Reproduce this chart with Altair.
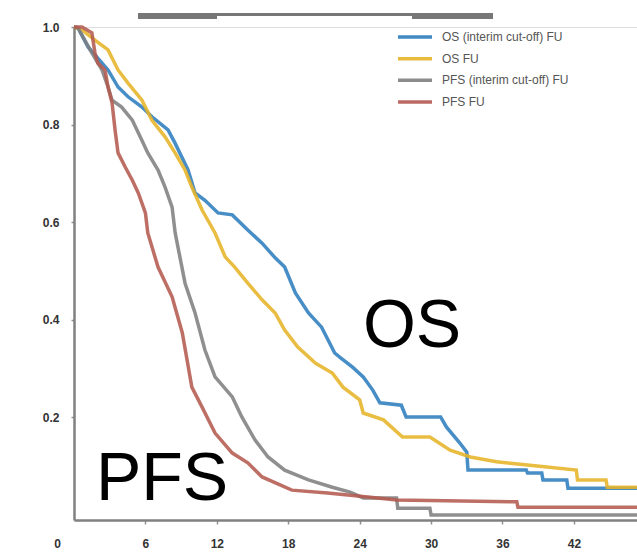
import altair as alt
import pandas as pd

# ---- data ----
series_names = ["OS (interim cut-off) FU", "OS FU", "PFS (interim cut-off) FU", "PFS FU"]
series_colors = ["#2D7DBE", "#E6B428", "#808080", "#B45A50"]

os_int_t = [0, 0.34, 1.18, 2.86, 3.7, 4.54, 5.71, 6.55, 7.9, 8.49, 9.58, 10.17, 11.0, 12.1, 13.3, 14.6,
            15.8, 16.9, 17.7, 18.6, 19.7, 20.8, 21.9, 22.4, 23.4, 24.3, 25.1, 25.7, 27.5, 27.9, 30.8,
            31.3, 32.4, 33.0, 33.1, 38.0, 38.1, 39.3, 39.4, 41.4, 41.5, 47.3]
os_int_s = [1.0, 0.998, 0.959, 0.912, 0.877, 0.857, 0.836, 0.816, 0.789, 0.762, 0.707, 0.66, 0.645, 0.619,
            0.615, 0.584, 0.557, 0.527, 0.508, 0.455, 0.414, 0.385, 0.332, 0.322, 0.303, 0.283, 0.256,
            0.23, 0.225, 0.201, 0.201, 0.18, 0.148, 0.129, 0.092, 0.092, 0.086, 0.086, 0.072, 0.072,
            0.055, 0.055]

os_t = [0, 0.67, 1.76, 2.86, 3.7, 4.54, 5.71, 6.55, 7.65, 8.49, 9.33, 9.9, 10.76, 11.85, 12.7, 13.5,
        14.6, 15.8, 16.9, 17.7, 18.8, 20.3, 21.7, 22.6, 24.0, 24.3, 26.0, 27.6, 29.9, 31.6, 33.3, 35.5,
        38.3, 42.2, 42.3, 44.7, 44.8, 47.3]
os_s = [1.0, 0.994, 0.973, 0.953, 0.912, 0.885, 0.85, 0.809, 0.775, 0.742, 0.707, 0.672, 0.625, 0.578,
        0.529, 0.508, 0.475, 0.441, 0.414, 0.379, 0.344, 0.311, 0.291, 0.262, 0.236, 0.209, 0.195, 0.16,
        0.16, 0.133, 0.119, 0.109, 0.102, 0.092, 0.072, 0.072, 0.057, 0.057]

pfs_int_t = [0, 0.34, 1.5, 2.35, 2.86, 3.2, 4.0, 4.9, 5.7, 6.2, 7.06, 7.65, 8.24, 8.5, 9.33, 10.17, 11.0,
             11.85, 13.3, 14.1, 15.2, 16.3, 17.7, 19.7, 21.7, 23.2, 24.3, 27.1, 27.2, 29.9, 30.0, 47.3]
pfs_int_s = [1.0, 0.998, 0.947, 0.912, 0.877, 0.85, 0.836, 0.809, 0.768, 0.742, 0.707, 0.672, 0.631,
             0.578, 0.475, 0.414, 0.338, 0.283, 0.242, 0.201, 0.154, 0.119, 0.092, 0.072, 0.057, 0.047,
             0.035, 0.035, 0.014, 0.014, 0.0, 0.0]

pfs_t = [0, 0.67, 1.5, 1.76, 2.0, 2.6, 2.86, 3.2, 3.45, 3.7, 4.3, 4.9, 5.4, 6.0, 6.2, 7.06, 8.24, 9.1,
         9.9, 10.76, 11.85, 13.3, 14.6, 15.8, 18.3, 21.3, 24.7, 27.1, 37.2, 37.3, 47.3]
pfs_s = [1.0, 1.0, 0.988, 0.947, 0.926, 0.912, 0.877, 0.844, 0.789, 0.742, 0.713, 0.686, 0.66, 0.619,
         0.578, 0.508, 0.447, 0.373, 0.262, 0.221, 0.168, 0.127, 0.107, 0.078, 0.051, 0.045, 0.037,
         0.031, 0.027, 0.016, 0.016]

x_ticks = [6, 12, 18, 24, 30, 36, 42]
y_ticks = [0.2, 0.4, 0.6, 0.8, 1.0]

rows = []
for name, ts, ss in zip(series_names, [os_int_t, os_t, pfs_int_t, pfs_t], [os_int_s, os_s, pfs_int_s, pfs_s]):
    for i, (t, s) in enumerate(zip(ts, ss)):
        rows.append({"series": name, "month": t, "surv": s, "idx": i})
df = pd.DataFrame(rows)
legend_df = pd.DataFrame({"series": series_names})

W, H = 563, 493
FONT = "Liberation Sans"

x_scale = alt.Scale(domain=[0, 47.3], nice=False, zero=False)
y_scale = alt.Scale(domain=[-0.0102, 1.0], nice=False, zero=False)
color_scale = alt.Scale(domain=series_names, range=series_colors)

lines = alt.Chart(df).mark_line(strokeWidth=3.5, strokeOpacity=0.88, clip=False).encode(
    x=alt.X("month:Q", scale=x_scale, title=None,
            axis=alt.Axis(values=x_ticks, grid=False, domainColor="#808080", domainWidth=2.5,
                          tickColor="#909090", tickSize=4, tickWidth=1.5, labelPadding=14,
                          labelFont=FONT, labelFontWeight="bold", labelFontSize=12,
                          labelColor="#333333", labelFlush=False)),
    y=alt.Y("surv:Q", scale=y_scale, title=None,
            axis=alt.Axis(values=y_ticks, format=".1f", grid=False, domainColor="#808080",
                          domainWidth=2.5, tickColor="#909090", tickSize=3, tickWidth=1.5,
                          labelPadding=12, labelFont=FONT, labelFontWeight="bold",
                          labelFontSize=12, labelColor="#333333")),
    color=alt.Color("series:N", sort=series_names, scale=color_scale, legend=None),
    order="idx:Q",
)

# manual legend (rows laid out by a point scale over the series names)
leg_y = alt.Y("series:N", sort=series_names, title=None, axis=None,
              scale=alt.Scale(type="point", range=[10, 75], padding=0))
leg_sym = alt.Chart(legend_df).mark_rule(strokeWidth=3.5, strokeOpacity=0.9).encode(
    x=alt.value(324), x2=alt.value(358), y=leg_y,
    color=alt.Color("series:N", sort=series_names, scale=color_scale, legend=None))
leg_txt = alt.Chart(legend_df).mark_text(align="left", baseline="middle", font=FONT,
                                         fontSize=12, color="#555555").encode(
    x=alt.value(368), y=leg_y, text="series:N")

one = pd.DataFrame({"a": [0]})

ann_os = alt.Chart(one).mark_text(text="OS", font=FONT, fontSize=68, color="black",
                                  align="center", baseline="alphabetic").encode(
    x=alt.value(412 - 74), y=alt.value(347 - 27))
ann_pfs = alt.Chart(one).mark_text(text="PFS", font=FONT, fontSize=68, color="black",
                                   align="center", baseline="alphabetic").encode(
    x=alt.value(162 - 74), y=alt.value(500 - 27))
zero_lbl = alt.Chart(one).mark_text(text="0", font=FONT, fontSize=12, fontWeight="bold",
                                    color="#333333", align="right", baseline="middle").encode(
    x=alt.value(61 - 74), y=alt.value(544 - 27))

bar_thin = alt.Chart(one).mark_rule(color="#777777", strokeWidth=3).encode(
    x=alt.value(138 - 74), x2=alt.value(493 - 74), y=alt.value(14.5 - 27))
bar_l = alt.Chart(one).mark_rule(color="#777777", strokeWidth=6).encode(
    x=alt.value(138 - 74), x2=alt.value(217 - 74), y=alt.value(16 - 27))
bar_r = alt.Chart(one).mark_rule(color="#777777", strokeWidth=6).encode(
    x=alt.value(412 - 74), x2=alt.value(493 - 74), y=alt.value(16 - 27))

chart = alt.layer(lines, leg_sym, leg_txt, ann_os, ann_pfs, zero_lbl, bar_thin, bar_l, bar_r).resolve_scale(
    y="independent"
).properties(
    width=W, height=H,
    autosize=alt.AutoSizeParams(type="none"),
    padding={"left": 74, "top": 27, "right": 0, "bottom": 34},
).configure_view(stroke=None).configure(background="white")

chart.save("out.html", embed_options={"renderer": "svg", "actions": False})
